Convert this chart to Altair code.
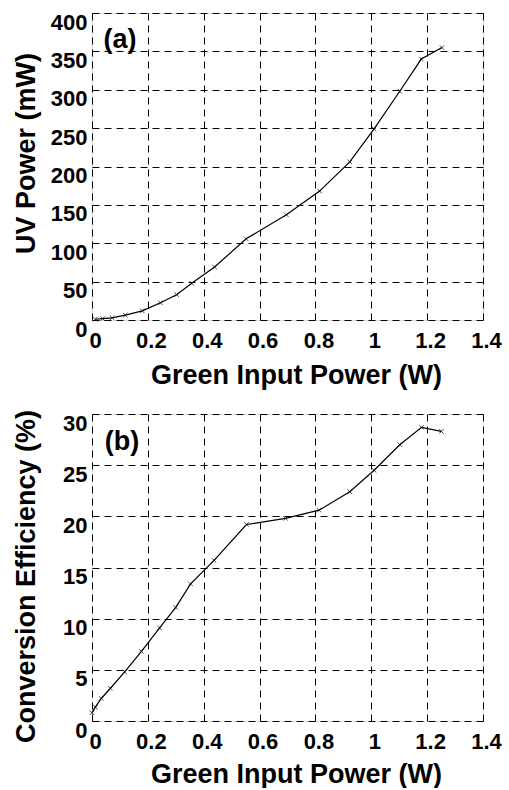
import altair as alt
import pandas as pd

# Panel (a): UV power vs green input power
green_a = [0.012, 0.038, 0.072, 0.119, 0.180, 0.245, 0.303, 0.357, 0.439, 0.552,
           0.696, 0.815, 0.923, 1.010, 1.102, 1.179, 1.253]
uv_mw = [1.0, 1.7, 2.8, 6.3, 11.9, 22.4, 33.0, 47.8, 69.0, 105.8,
         137, 168, 206, 249, 298, 340, 355]

# Panel (b): conversion efficiency vs green input power
green_b = [0.0, 0.012, 0.033, 0.066, 0.117, 0.177, 0.242, 0.300, 0.353, 0.437,
           0.553, 0.693, 0.813, 0.923, 1.010, 1.102, 1.180, 1.251]
eff_pct = [0.8, 1.35, 2.2, 3.2, 4.8, 6.8, 9.1, 11.1, 13.4, 15.7,
           19.2, 19.8, 20.6, 22.4, 24.5, 27.0, 28.7, 28.3]

x_ticks = [0, 0.2, 0.4, 0.6, 0.8, 1.0, 1.2, 1.4]
ya_ticks = [0, 50, 100, 150, 200, 250, 300, 350, 400]
yb_ticks = [0, 5, 10, 15, 20, 25, 30]

label_a = {"x": [0.10], "y": [365], "t": ["(a)"]}
label_b = {"x": [0.107], "y": [27.3], "t": ["(b)"]}

FONT = "Liberation Sans"
W, H = 391, 307
XSHAPE = "M-1,-1L1,1M1,-1L-1,1"


def panel(xs, ys, ydom, yticks, ytitle, lab, xtitle_y, ytitle_y):
    df = pd.DataFrame({"x": xs, "y": ys})
    xaxis = alt.Axis(values=x_ticks, format="~g", title="Green Input Power (W)",
                     grid=True, gridColor="black", gridDash=[7, 5], gridWidth=1,
                     domain=False, ticks=False, tickSize=0, labelOverlap=False,
                     labelFont=FONT, labelFontSize=22, labelFontWeight="bold",
                     labelColor="black", labelPadding=10, labelOffset=3,
                     labelBaseline="top", labelFlush=False,
                     titleFont=FONT, titleFontSize=27, titleFontWeight="bold",
                     titleColor="black", titleX=204, titleY=xtitle_y,
                     titleBaseline="alphabetic", titleAlign="center")
    yaxis = alt.Axis(values=yticks, title=ytitle,
                     grid=True, gridColor="black", gridDash=[7, 5], gridWidth=1,
                     domain=False, ticks=False, tickSize=0, labelOverlap=False,
                     labelFont=FONT, labelFontSize=22, labelFontWeight="bold",
                     labelColor="black", labelPadding=5, labelOffset=-1,
                     labelBaseline="top", labelFlush=False,
                     titleFont=FONT, titleFontSize=27, titleFontWeight="bold",
                     titleColor="black", titleX=-58, titleY=ytitle_y,
                     titleBaseline="alphabetic", titleAlign="center", titleAngle=270)
    xenc = alt.X("x:Q", scale=alt.Scale(domain=[0, 1.4], nice=False), axis=xaxis)
    yenc = alt.Y("y:Q", scale=alt.Scale(domain=ydom, nice=False), axis=yaxis)
    base = alt.Chart(df).encode(x=xenc, y=yenc)
    line = base.mark_line(color="black", strokeWidth=1.2)
    pts = base.mark_point(shape=XSHAPE, size=20, color="black", strokeWidth=1,
                          filled=False)
    txt = alt.Chart(pd.DataFrame(lab)).mark_text(
        font=FONT, fontSize=27, fontWeight="bold", color="black",
        align="center", baseline="middle").encode(x=xenc, y=yenc, text="t:N")
    return alt.layer(line, pts, txt).properties(width=W, height=H)


top = panel(green_a, uv_mw, [0, 400], ya_ticks, "UV Power (mW)", label_a, 63, 140)
bot = panel(green_b, eff_pct, [0, 30], yb_ticks, "Conversion Efficiency (%)", label_b, 61, 162)

chart = alt.vconcat(top, bot, spacing=94, bounds="flush").properties(
    padding={"left": 11, "top": 10, "right": 5, "bottom": 0}
).configure_view(stroke="black", strokeWidth=2).configure(background="white")

chart.save("out.html", embed_options={"renderer": "svg", "actions": False})
